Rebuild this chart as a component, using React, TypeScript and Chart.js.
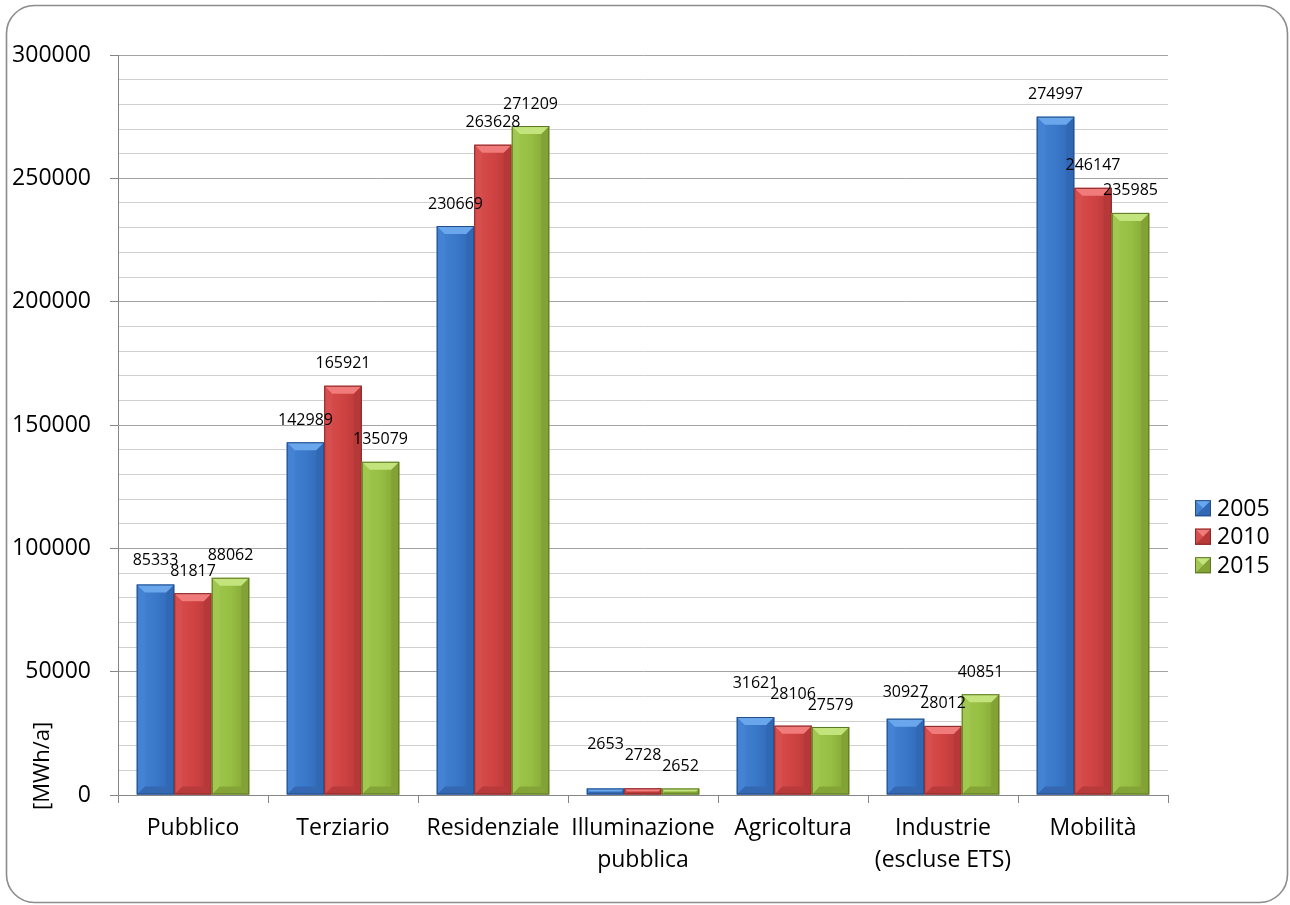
import React, { useEffect, useRef } from "react";
import { Chart, registerables } from "chart.js";

Chart.register(...registerables);

// Categories (multi-line where the axis label wraps)
const categories: string[][] = [
  ["Pubblico"],
  ["Terziario"],
  ["Residenziale"],
  ["Illuminazione", "pubblica"],
  ["Agricoltura"],
  ["Industrie", "(escluse ETS)"],
  ["Mobilità"],
];

const seriesNames = ["2005", "2010", "2015"];

// Consumption per sector [MWh/a]
const values2005 = [85333, 142989, 230669, 2653, 31621, 30927, 274997];
const values2010 = [81817, 165921, 263628, 2728, 28106, 28012, 246147];
const values2015 = [88062, 135079, 271209, 2652, 27579, 40851, 235985];

const yMax = 300000;
const yMajorStep = 50000;
const yMinorStep = 10000;
const axisTitle = "[MWh/a]";

type Palette = {
  base: string;
  top: string;
  left: string;
  right: string;
  bottom: string;
  edge: string;
};

const palettes: Palette[] = [
  { base: "#3a78ca", top: "#69a6ec", left: "#4483d4", right: "#3068b4", bottom: "#3468b2", edge: "#234d88" },
  { base: "#d04343", top: "#f17a7a", left: "#d74e4e", right: "#b73838", bottom: "#b83a3a", edge: "#862828" },
  { base: "#97bf43", top: "#c3e37c", left: "#a0c74e", right: "#82a236", bottom: "#84a437", edge: "#5c7725" },
];

const FONT = "'Open Sans', 'Noto Sans', sans-serif";

function poly(ctx: CanvasRenderingContext2D, pts: number[][], fill: string) {
  ctx.beginPath();
  ctx.moveTo(pts[0][0], pts[0][1]);
  for (let i = 1; i < pts.length; i++) ctx.lineTo(pts[i][0], pts[i][1]);
  ctx.closePath();
  ctx.fillStyle = fill;
  ctx.fill();
}

// Bevelled box: flat face with four sloped facets and a thin outline
function drawBevel(ctx: CanvasRenderingContext2D, x: number, y: number, w: number, h: number, p: Palette) {
  if (w <= 0 || h <= 0) return;
  const b = Math.min(8, w / 2, h / 2);
  const g = ctx.createLinearGradient(x, 0, x + w, 0);
  g.addColorStop(0, p.left);
  g.addColorStop(0.5, p.base);
  g.addColorStop(1, p.right);
  ctx.fillStyle = g;
  ctx.fillRect(x, y, w, h);
  poly(ctx, [[x, y + h], [x + b, y + h - b], [x + w - b, y + h - b], [x + w, y + h]], p.bottom);
  poly(ctx, [[x, y], [x + b, y + b], [x + b, y + h - b], [x, y + h]], p.left);
  poly(ctx, [[x + w, y], [x + w, y + h], [x + w - b, y + h - b], [x + w - b, y + b]], p.right);
  poly(ctx, [[x, y], [x + w, y], [x + w - b, y + b], [x + b, y + b]], p.top);
  ctx.strokeStyle = p.edge;
  ctx.lineWidth = 1;
  ctx.strokeRect(x + 0.5, y + 0.5, w - 1, h - 1);
}

const framePlugin = {
  id: "frame",
  beforeDraw(chart: Chart) {
    const ctx = chart.ctx;
    const W = chart.width;
    const H = chart.height;
    ctx.save();
    ctx.fillStyle = "#ffffff";
    ctx.fillRect(0, 0, W, H);
    const x0 = 6.5, y0 = 5.5, x1 = W - 2.5, y1 = H - 2.5, r = 28;
    ctx.beginPath();
    ctx.moveTo(x0 + r, y0);
    ctx.arcTo(x1, y0, x1, y1, r);
    ctx.arcTo(x1, y1, x0, y1, r);
    ctx.arcTo(x0, y1, x0, y0, r);
    ctx.arcTo(x0, y0, x1, y0, r);
    ctx.closePath();
    ctx.strokeStyle = "#8c8c8c";
    ctx.lineWidth = 1.6;
    ctx.stroke();
    ctx.restore();
  },
};

const barsPlugin = {
  id: "bevelBars",
  afterDatasetsDraw(chart: Chart) {
    const ctx = chart.ctx;
    const area = chart.chartArea;
    ctx.save();
    ctx.beginPath();
    ctx.rect(area.left, area.top - 2, area.right - area.left, area.bottom - area.top + 2);
    ctx.clip();
    chart.data.datasets.forEach((_ds, di) => {
      const meta = chart.getDatasetMeta(di);
      meta.data.forEach((el: any) => {
        const { x, y, base, width } = el.getProps(["x", "y", "base", "width"], true);
        drawBevel(ctx, x - width / 2, y, width, base - y, palettes[di]);
      });
    });
    ctx.restore();

    // value labels above the bars; a label that runs into its right-hand
    // neighbour is lifted, giving a small staircase
    ctx.save();
    ctx.font = `16px ${FONT}`;
    ctx.fillStyle = "#000";
    ctx.textAlign = "center";
    ctx.textBaseline = "middle";
    const n = chart.data.labels!.length;
    const lh = 11;
    for (let i = 0; i < n; i++) {
      const items = chart.data.datasets.map((ds, di) => {
        const el: any = chart.getDatasetMeta(di).data[i];
        const text = String(ds.data[i]);
        return { text, x: el.x, y: el.y - 22, w: ctx.measureText(text).width };
      });
      for (let k = items.length - 2; k >= 0; k--) {
        const a = items[k];
        const b = items[k + 1];
        const hOverlap = Math.abs(a.x - b.x) < (a.w + b.w) / 2 + 3;
        const vOverlap = Math.abs(a.y - b.y) < lh;
        if (hOverlap && vOverlap) a.y = Math.min(a.y, b.y - lh);
      }
      items.forEach((it) => ctx.fillText(it.text, it.x, it.y));
    }
    ctx.restore();
  },
};

const decorPlugin = {
  id: "decor",
  afterDraw(chart: Chart) {
    const ctx = chart.ctx;
    const area = chart.chartArea;
    ctx.save();
    // axis title, rotated, starting just below the baseline
    ctx.translate(area.left - 75, area.bottom + 15);
    ctx.rotate(-Math.PI / 2);
    ctx.font = `22px ${FONT}`;
    ctx.fillStyle = "#000";
    ctx.textAlign = "left";
    ctx.textBaseline = "middle";
    ctx.fillText(axisTitle, 0, 0);
    ctx.restore();

    // legend
    ctx.save();
    const lx = area.right + 27;
    const cy = chart.height * 0.593;
    const step = 28.5;
    ctx.font = `23px ${FONT}`;
    ctx.textAlign = "left";
    ctx.textBaseline = "middle";
    chart.data.datasets.forEach((ds, di) => {
      const yy = cy + (di - 1) * step;
      drawBevel(ctx, lx, yy - 8, 16, 16, palettes[di]);
      ctx.fillStyle = "#000";
      ctx.fillText(String(ds.label), lx + 22, yy + 1);
    });
    ctx.restore();
  },
};

export default function App() {
  const ref = useRef<HTMLCanvasElement | null>(null);

  useEffect(() => {
    document.body.style.margin = "0";
    document.body.style.overflow = "hidden";
    const canvas = ref.current;
    if (!canvas) return;
    const seriesValues = [values2005, values2010, values2015];
    const chart = new Chart(canvas, {
      type: "bar",
      data: {
        labels: categories,
        datasets: seriesValues.map((vals, i) => ({
          label: seriesNames[i],
          data: vals,
          backgroundColor: "rgba(0,0,0,0)",
          borderWidth: 0,
          categoryPercentage: 0.75,
          barPercentage: 1.0,
        })),
      },
      options: {
        animation: false,
        responsive: false,
        devicePixelRatio: 1,
        layout: { padding: { top: 55, right: 122, left: 0, bottom: 0 } },
        plugins: {
          legend: { display: false },
          tooltip: { enabled: false },
          title: { display: false },
        },
        scales: {
          x: {
            afterFit(scale: any) {
              scale.height = 110;
            },
            grid: {
              display: true,
              drawOnChartArea: false,
              drawTicks: true,
              tickLength: 8,
              color: "#868686",
              offset: true,
            },
            border: { display: true, color: "#868686", width: 1 },
            ticks: {
              autoSkip: false,
              maxRotation: 0,
              minRotation: 0,
              padding: 9,
              color: "#000",
              font: { family: FONT, size: 23, lineHeight: 1.4 },
            },
          },
          y: {
            min: 0,
            max: yMax,
            afterFit(scale: any) {
              scale.width = 118;
            },
            grid: {
              drawTicks: true,
              tickLength: 8,
              color: (c: any) => (c.tick && c.tick.value % yMajorStep === 0 ? "#a3a3a3" : "#d0d0d0"),
              tickColor: (c: any) => (c.tick && c.tick.value % yMajorStep === 0 ? "#868686" : "rgba(0,0,0,0)"),
            },
            border: { display: true, color: "#868686", width: 1 },
            ticks: {
              stepSize: yMinorStep,
              autoSkip: false,
              padding: 19,
              color: "#000",
              font: { family: FONT, size: 23 },
              callback: (v: any) => (Number(v) % yMajorStep === 0 ? String(v) : ""),
            },
          },
        },
      },
      plugins: [framePlugin, barsPlugin, decorPlugin],
    });
    return () => chart.destroy();
  }, []);

  return (
    <div style={{ width: 1290, height: 905 }}>
      <canvas ref={ref} width={1290} height={905} style={{ display: "block", width: 1290, height: 905 }} />
    </div>
  );
}
